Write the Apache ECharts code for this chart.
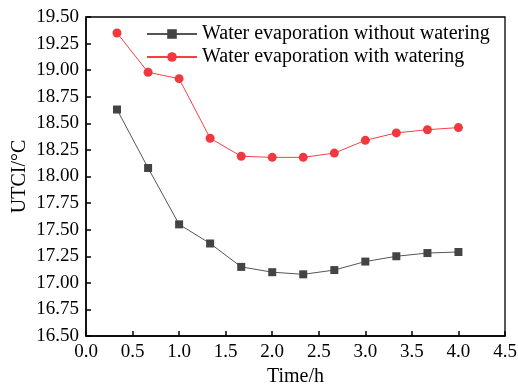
<!DOCTYPE html>
<html><head><meta charset="utf-8">
<script src="https://cdn.jsdelivr.net/npm/echarts@6/dist/echarts.min.js"></script>
<style>html,body{margin:0;padding:0;background:#fff}#c{width:518px;height:387px}</style>
</head><body><div id="c"></div>
<script>
const timeH = [0.333, 0.667, 1.0, 1.333, 1.667, 2.0, 2.333, 2.667, 3.0, 3.333, 3.667, 4.0];
const withoutWatering = [18.63, 18.08, 17.55, 17.37, 17.15, 17.10, 17.08, 17.12, 17.20, 17.25, 17.28, 17.29];
const withWatering = [19.35, 18.98, 18.92, 18.36, 18.19, 18.18, 18.18, 18.22, 18.34, 18.41, 18.44, 18.46];
const seriesNames = ['Water evaporation without watering', 'Water evaporation with watering'];

const font = 'Liberation Serif, Times New Roman, serif';
const chart = echarts.init(document.getElementById('c'));
chart.setOption({
  animation: false,
  grid: {left: 86, right: 13, top: 17, bottom: 51, show: true, borderColor: '#000', borderWidth: 1.3,
         containLabel: false, outerBoundsMode: 'none'},
  legend: {
    orient: 'vertical', left: 141, top: 19, itemGap: 3, itemWidth: 50, itemHeight: 12,
    textStyle: {fontFamily: font, fontSize: 20, color: '#000'},
    data: seriesNames
  },
  xAxis: {
    type: 'value', min: 0, max: 4.5, interval: 0.5,
    name: 'Time/h', nameLocation: 'middle', nameGap: 31,
    nameTextStyle: {fontFamily: font, fontSize: 20, color: '#000'},
    axisLine: {lineStyle: {color: '#000', width: 1.5}},
    axisTick: {inside: true, length: 5, lineStyle: {color: '#000', width: 1.5}},
    axisLabel: {fontFamily: font, fontSize: 19, color: '#000', margin: 7, formatter: v => v.toFixed(1)},
    splitLine: {show: false}
  },
  yAxis: {
    type: 'value', min: 16.5, max: 19.5, interval: 0.25,
    name: 'UTCI/°C', nameLocation: 'middle', nameGap: 56, nameRotate: 90, nameMoveOverlap: false,
    nameTextStyle: {fontFamily: font, fontSize: 20, color: '#000'},
    axisLine: {show: true, lineStyle: {color: '#000', width: 1.5}},
    axisTick: {show: true, inside: true, length: 5, lineStyle: {color: '#000', width: 1.5}},
    axisLabel: {fontFamily: font, fontSize: 19, color: '#000', margin: 7, formatter: v => v.toFixed(2)},
    splitLine: {show: false}
  },
  series: [
    {
      name: seriesNames[0], type: 'line', symbol: 'rect', symbolSize: 8,
      data: timeH.map((t, i) => [t, withoutWatering[i]]),
      lineStyle: {color: '#555', width: 1},
      itemStyle: {color: '#444'}
    },
    {
      name: seriesNames[1], type: 'line', symbol: 'circle', symbolSize: 9,
      data: timeH.map((t, i) => [t, withWatering[i]]),
      lineStyle: {color: '#f04048', width: 1},
      itemStyle: {color: '#f0383f'}
    }
  ]
});
</script></body></html>
